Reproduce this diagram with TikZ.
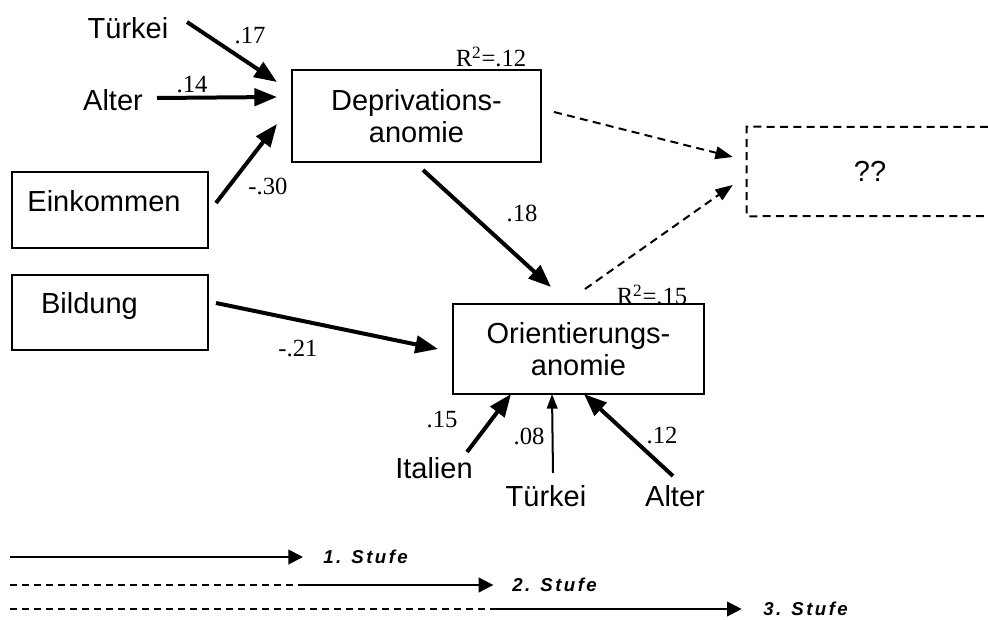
\documentclass[tikz,border=0pt]{standalone}
\usepackage{fontspec}
\setmainfont{Liberation Serif}
\setsansfont{Liberation Sans}
\newfontfamily\legfont[LetterSpace=13]{Liberation Sans}
\usetikzlibrary{arrows.meta}
\begin{document}
\begin{tikzpicture}[x=0.75pt,y=-0.75pt,
  box/.style={draw,line width=1.5pt,inner sep=0pt},
  lab/.style={font=\sffamily\fontsize{21.75pt}{23.5pt}\selectfont,inner sep=0pt,align=center},
  num/.style={font=\rmfamily\fontsize{18.5pt}{20pt}\selectfont,inner sep=0pt},
  leg/.style={font=\legfont\bfseries\itshape\fontsize{14pt}{15pt}\selectfont,inner sep=0pt,anchor=west},
  thk/.style={line width=3pt,-{Triangle[length=17pt,width=13pt]}},
  thn/.style={line width=1.5pt,-{Triangle[length=11pt,width=8pt]}},
  dsh/.style={line width=1.5pt,dash pattern=on 6pt off 4pt,-{Triangle[length=13pt,width=9.5pt]}},
  legarr/.style={line width=1.5pt,-{Triangle[length=11pt,width=11pt]}},
  legdash/.style={line width=1.5pt,dash pattern=on 5pt off 4pt},
]
\useasboundingbox (0,0) rectangle (988,620);

% boxes
\node[box,minimum width=186.75pt,minimum height=69pt,lab] (dep) at (416.5,116) {Deprivations-\\anomie};
\node[box,minimum width=188.25pt,minimum height=67.5pt,lab] (ori) at (578.5,349) {Orientierungs-\\anomie};
\node[box,minimum width=147pt,minimum height=57pt] (eink) at (110,210) {};
\node[lab] (einkt) at ([shift={(-6,-9)}]eink.center) {Einkommen};
\node[box,minimum width=147pt,minimum height=56.25pt] (bild) at (110,312.5) {};
\node[lab] (bildt) at ([shift={(-20.5,-6.5)}]bild.center) {Bildung};
\node[lab,minimum width=184.5pt,minimum height=66.75pt] (qbox) at (870,171.5) {??};
\draw[line width=1.5pt,dash pattern=on 6pt off 4pt] (988,127) -- (qbox.north west) -- (qbox.south west) -- (988,216);

% plain labels
\node[lab] (t1) at (128,28) {Türkei};
\node[lab] (a1) at (113,100) {Alter};
\node[lab] (ital) at (434,468) {Italien};
\node[lab] (t2) at (546,496) {Türkei};
\node[lab] (a2) at (675,496) {Alter};

% connectors
\draw[thk] ([shift={(59,-6)}]t1.center) -- ([shift={(-14,13)}]dep.north west);
\draw[thk] ([shift={(44,-2)}]a1.center) -- ([shift={(-14,28)}]dep.north west);
\draw[thk] ([shift={(7,-7)}]eink.east) -- ([shift={(-14,55)}]dep.north west);
\draw[thk] ([shift={(6.5,7)}]dep.south) -- ([shift={(99,-16)}]ori.north west);
\draw[thk] ([shift={(7,-9.5)}]bild.east) -- ([shift={(-14,0)}]ori.west);
\draw[dsh] ([shift={(12,-4)}]dep.east) -- ([shift={(-14,-14.5)}]qbox.west);
\draw[dsh] ([shift={(6.5,-14)}]ori.north) -- ([shift={(-14,13.5)}]qbox.west);
\draw[thk] ([shift={(33,-16)}]ital.center) -- ([shift={(59,-1)}]ori.south west);
\draw[thn] ([shift={(7,-23)}]t2.center) -- ([shift={(100,-1)}]ori.south west);
\draw[thk] ([shift={(-2,-20)}]a2.center) -- ([shift={(132,-1)}]ori.south west);

% coefficients
\node[num] (c17) at (250,36) {.17};
\node[num] (c14) at (192,85) {.14};
\node[num] (c30) at (268,186) {-.30};
\node[num] (r12) at (491,57) {R\textsuperscript{2}=.12};
\node[num] (c18) at (522,213) {.18};
\node[num] (c21) at (298,349) {-.21};
\node[num] (r15) at (652,295) {R\textsuperscript{2}=.15};
\node[num] (c15) at (442,420) {.15};
\node[num] (c08) at (529,436) {.08};
\node[num] (c12) at (662,436) {.12};

% legend
\node[leg] (st1) at (323,557) {1. Stufe};
\node[leg] (st2) at (512,585) {2. Stufe};
\node[leg] (st3) at (763,609) {3. Stufe};
\coordinate (s1) at (10,557);
\coordinate (s2) at (10,585);
\coordinate (m2) at (300,585);
\coordinate (s3) at (10,609);
\coordinate (m3) at (490,609);
\draw[legarr] (s1) -- ([xshift=-15]st1.west);
\draw[legdash] (s2) -- (m2);
\draw[legarr] (m2) -- ([xshift=-14]st2.west);
\draw[legdash] (s3) -- (m3);
\draw[legarr] (m3) -- ([xshift=-16]st3.west);
\end{tikzpicture}
\end{document}
